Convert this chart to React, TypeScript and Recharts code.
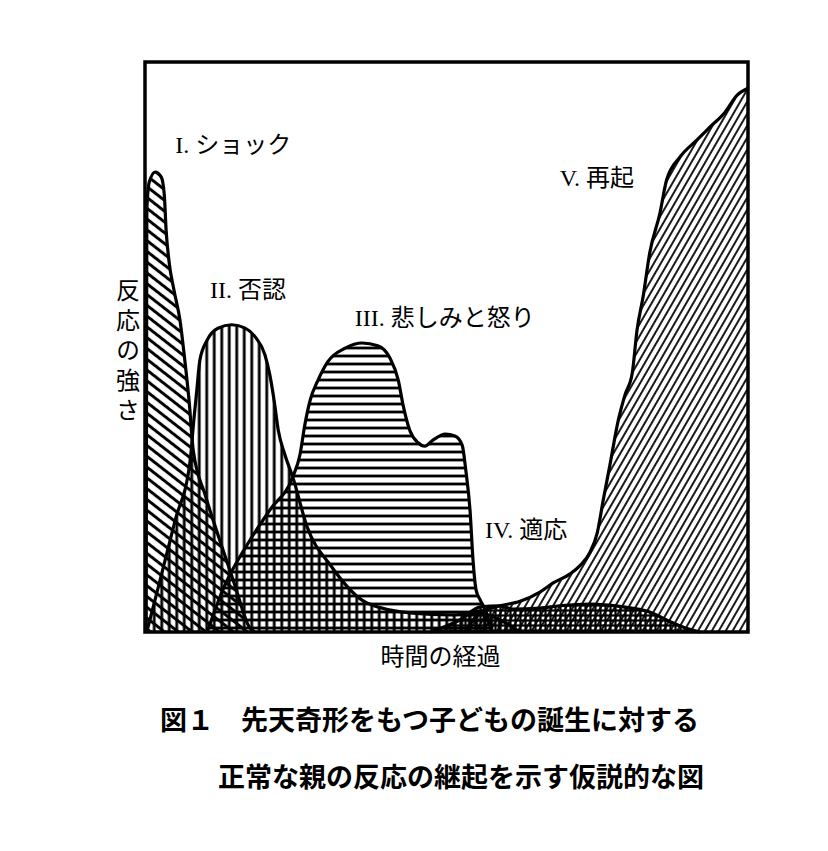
import React from "react";
import { ComposedChart, Area, XAxis, YAxis, ReferenceArea, ReferenceDot } from "recharts";

// x = time (0-100), y = strength of reaction (0-100)
const shock: [number, number][] = [
  [0.2, 0], [0.3, 74], [0.7, 78.9], [1.7, 80.7], [2.7, 79.8], [3.2, 76.7], [3.5, 70.5],
  [4.0, 64.9], [4.8, 60], [5.8, 54.7], [6.6, 47.7], [7.3, 40.7], [8.0, 31.9], [10.0, 24.0],
  [12.4, 16.1], [14.9, 8.2], [17.4, 0.7], [18.2, 0],
];
const denial: [number, number][] = [
  [0.3, 0], [2.5, 9.1], [5.0, 19.6], [7.5, 30.2], [8.1, 37.2], [8.6, 42.5], [9.1, 47.7],
  [10.3, 51.2], [12.1, 53.3], [14.4, 53.9], [16.6, 53.3], [18.4, 51.6], [19.9, 48.6],
  [20.7, 45.1], [21.4, 40.7], [22.1, 35.4], [23.2, 31.1], [24.5, 27.2], [26.9, 18.4],
  [30.7, 11.8], [36.8, 5.1], [44.4, 3.3], [50.6, 3.0], [55.6, 3.3], [58.9, 2.1], [62.2, 0],
];
const grief: [number, number][] = [
  [10.3, 0], [12.9, 7.4], [17.4, 16.1], [20.7, 21.4], [24.5, 27.2], [25.7, 31.1], [26.5, 36.3],
  [27.4, 40.7], [28.7, 44.2], [30.3, 47.4], [33.2, 49.8], [36.0, 50.7], [38.6, 50.2],
  [40.6, 48.1], [42.0, 44.2], [42.8, 39.8], [43.9, 35.4], [45.3, 33.2], [46.4, 32.6],
  [47.8, 33.7], [49.8, 34.7], [51.4, 34.4], [52.6, 32.8], [53.2, 28.4], [53.9, 21.4],
  [54.4, 12.6], [54.9, 7.4], [55.6, 5.6], [56.4, 3.9], [57.5, 0],
];
const adaptation: [number, number][] = [
  [47.3, 0], [52.2, 2.1], [55.6, 4.4], [58.9, 4.6], [61.0, 4.0], [65.5, 4.2], [68.8, 4.6],
  [73.8, 4.9], [79.3, 4.4], [83.7, 3.5], [87.1, 1.8], [89.6, 0.7], [92.0, 0],
];
const reorganization: [number, number][] = [
  [53.1, 0], [55.6, 3.5], [58.9, 4.6], [62.2, 5.4], [65.5, 7.0], [67.7, 8.6], [70.5, 10.2],
  [72.1, 11.6], [73.8, 14.0], [75.0, 17.4], [76.0, 23.2], [77.1, 29.3], [78.5, 37.2],
  [79.6, 41.6], [80.8, 45.4], [81.6, 53.0], [82.6, 58.8], [83.7, 66.5], [85.4, 73.5],
  [86.5, 79.3], [88.7, 83.3], [91.5, 86.3], [93.7, 88.6], [96.2, 91.2], [98.2, 94.2], [100, 95.4],
];

const stageNames = ["I. ショック", "II. 否認", "III. 悲しみと怒り", "IV. 適応", "V. 再起"];
const xAxisName = "時間の経過";
const yAxisName = "反応の強さ";
const captionLines = ["図１　先天奇形をもつ子どもの誕生に対する", "正常な親の反応の継起を示す仮説的な図"];

const seriesList: [string, [number, number][]][] = [
  ["reorganization", reorganization],
  ["adaptation", adaptation],
  ["grief", grief],
  ["denial", denial],
  ["shock", shock],
];

const rowMap = new Map<number, any>();
for (const [key, pts] of seriesList) {
  for (const [x, y] of pts) {
    if (!rowMap.has(x)) {
      const row: any = { x };
      seriesList.forEach(([k]) => (row[k] = null));
      rowMap.set(x, row);
    }
    rowMap.get(x)[key] = y;
  }
}
const table = [...rowMap.values()].sort((a, b) => a.x - b.x);

const JP = "'Noto Sans CJK JP', sans-serif";
const LABEL_FONT = "'Liberation Serif', 'Noto Sans CJK JP', serif";

const stageLabel = (text: string) => (props: any) => {
  const vb = props.viewBox || {};
  return (
    <text x={vb.x} y={vb.y} dominantBaseline="central" fontSize={24} fontFamily={LABEL_FONT} fill="#000">
      {text}
    </text>
  );
};

const xLabel = (props: any) => {
  const vb = props.viewBox || {};
  return (
    <text x={vb.x} y={vb.y} textAnchor="middle" dominantBaseline="central" fontSize={24} fontFamily={JP} fill="#000">
      {xAxisName}
    </text>
  );
};

// vertical (tategaki) axis title
const yLabel = (props: any) => {
  const vb = props.viewBox || {};
  return (
    <text
      x={vb.x - 17}
      y={vb.y}
      textAnchor="middle"
      fontSize={24}
      letterSpacing={6}
      fontFamily={JP}
      fill="#000"
      style={{ writingMode: "vertical-rl" }}
    >
      {yAxisName}
    </text>
  );
};

const areaStyle = {
  type: "monotone" as const,
  connectNulls: true,
  isAnimationActive: false,
  stroke: "#000",
  strokeWidth: 3.2,
  fillOpacity: 1,
  dot: false,
  activeDot: false,
};

export default function App() {
  return (
    <div style={{ width: 812 }}>
      <ComposedChart width={812} height={672} data={table} margin={{ top: 54, right: 72, left: 137, bottom: 48 }}>
        <defs>
          <pattern id="pShock" patternUnits="userSpaceOnUse" width="8.5" height="8.5" patternTransform="rotate(38)">
            <line x1="0" y1="4.25" x2="8.5" y2="4.25" stroke="#000" strokeWidth="3" />
          </pattern>
          <pattern id="pDenial" patternUnits="userSpaceOnUse" width="7.5" height="8">
            <line x1="3.75" y1="0" x2="3.75" y2="8" stroke="#000" strokeWidth="2.8" />
          </pattern>
          <pattern id="pGrief" patternUnits="userSpaceOnUse" width="8" height="8">
            <line x1="0" y1="4" x2="8" y2="4" stroke="#000" strokeWidth="2.8" />
          </pattern>
          <pattern id="pAdapt" patternUnits="userSpaceOnUse" width="5" height="5">
            <line x1="2.5" y1="0" x2="2.5" y2="5" stroke="#000" strokeWidth="2.2" />
            <line x1="0" y1="2.5" x2="5" y2="2.5" stroke="#000" strokeWidth="2.2" />
          </pattern>
          <pattern id="pReorg" patternUnits="userSpaceOnUse" width="6" height="6" patternTransform="rotate(-60)">
            <line x1="0" y1="3" x2="6" y2="3" stroke="#000" strokeWidth="1.8" />
          </pattern>
        </defs>
        <XAxis dataKey="x" type="number" domain={[0, 100]} height={0} tick={false} tickLine={false} axisLine={false} />
        <YAxis type="number" domain={[0, 100]} width={0} tick={false} tickLine={false} axisLine={false} />
        <Area {...areaStyle} dataKey="reorganization" fill="url(#pReorg)" />
        <Area {...areaStyle} dataKey="adaptation" fill="url(#pAdapt)" />
        <Area {...areaStyle} dataKey="grief" fill="url(#pGrief)" />
        <Area {...areaStyle} dataKey="denial" fill="url(#pDenial)" />
        <Area {...areaStyle} dataKey="shock" fill="url(#pShock)" />
        <ReferenceArea x1={0} x2={100} y1={0} y2={100} fill="none" stroke="#000" strokeWidth={3.5} />
        <ReferenceDot x={5.0} y={85.4} r={0} fill="none" stroke="none" label={stageLabel(stageNames[0])} />
        <ReferenceDot x={10.8} y={60.0} r={0} fill="none" stroke="none" label={stageLabel(stageNames[1])} />
        <ReferenceDot x={34.8} y={55.1} r={0} fill="none" stroke="none" label={stageLabel(stageNames[2])} />
        <ReferenceDot x={56.4} y={17.9} r={0} fill="none" stroke="none" label={stageLabel(stageNames[3])} />
        <ReferenceDot x={68.8} y={79.6} r={0} fill="none" stroke="none" label={stageLabel(stageNames[4])} />
        <ReferenceDot x={49} y={-4} r={0} fill="none" stroke="none" ifOverflow="visible" label={xLabel} />
        <ReferenceDot x={0} y={49} r={0} fill="none" stroke="none" ifOverflow="visible" label={yLabel} />
      </ComposedChart>
      <div style={{ fontFamily: JP, fontWeight: 700, fontSize: 27, lineHeight: "57px", marginTop: 10 }}>
        <div style={{ paddingLeft: 152 }}>{captionLines[0]}</div>
        <div style={{ paddingLeft: 210 }}>{captionLines[1]}</div>
      </div>
    </div>
  );
}
